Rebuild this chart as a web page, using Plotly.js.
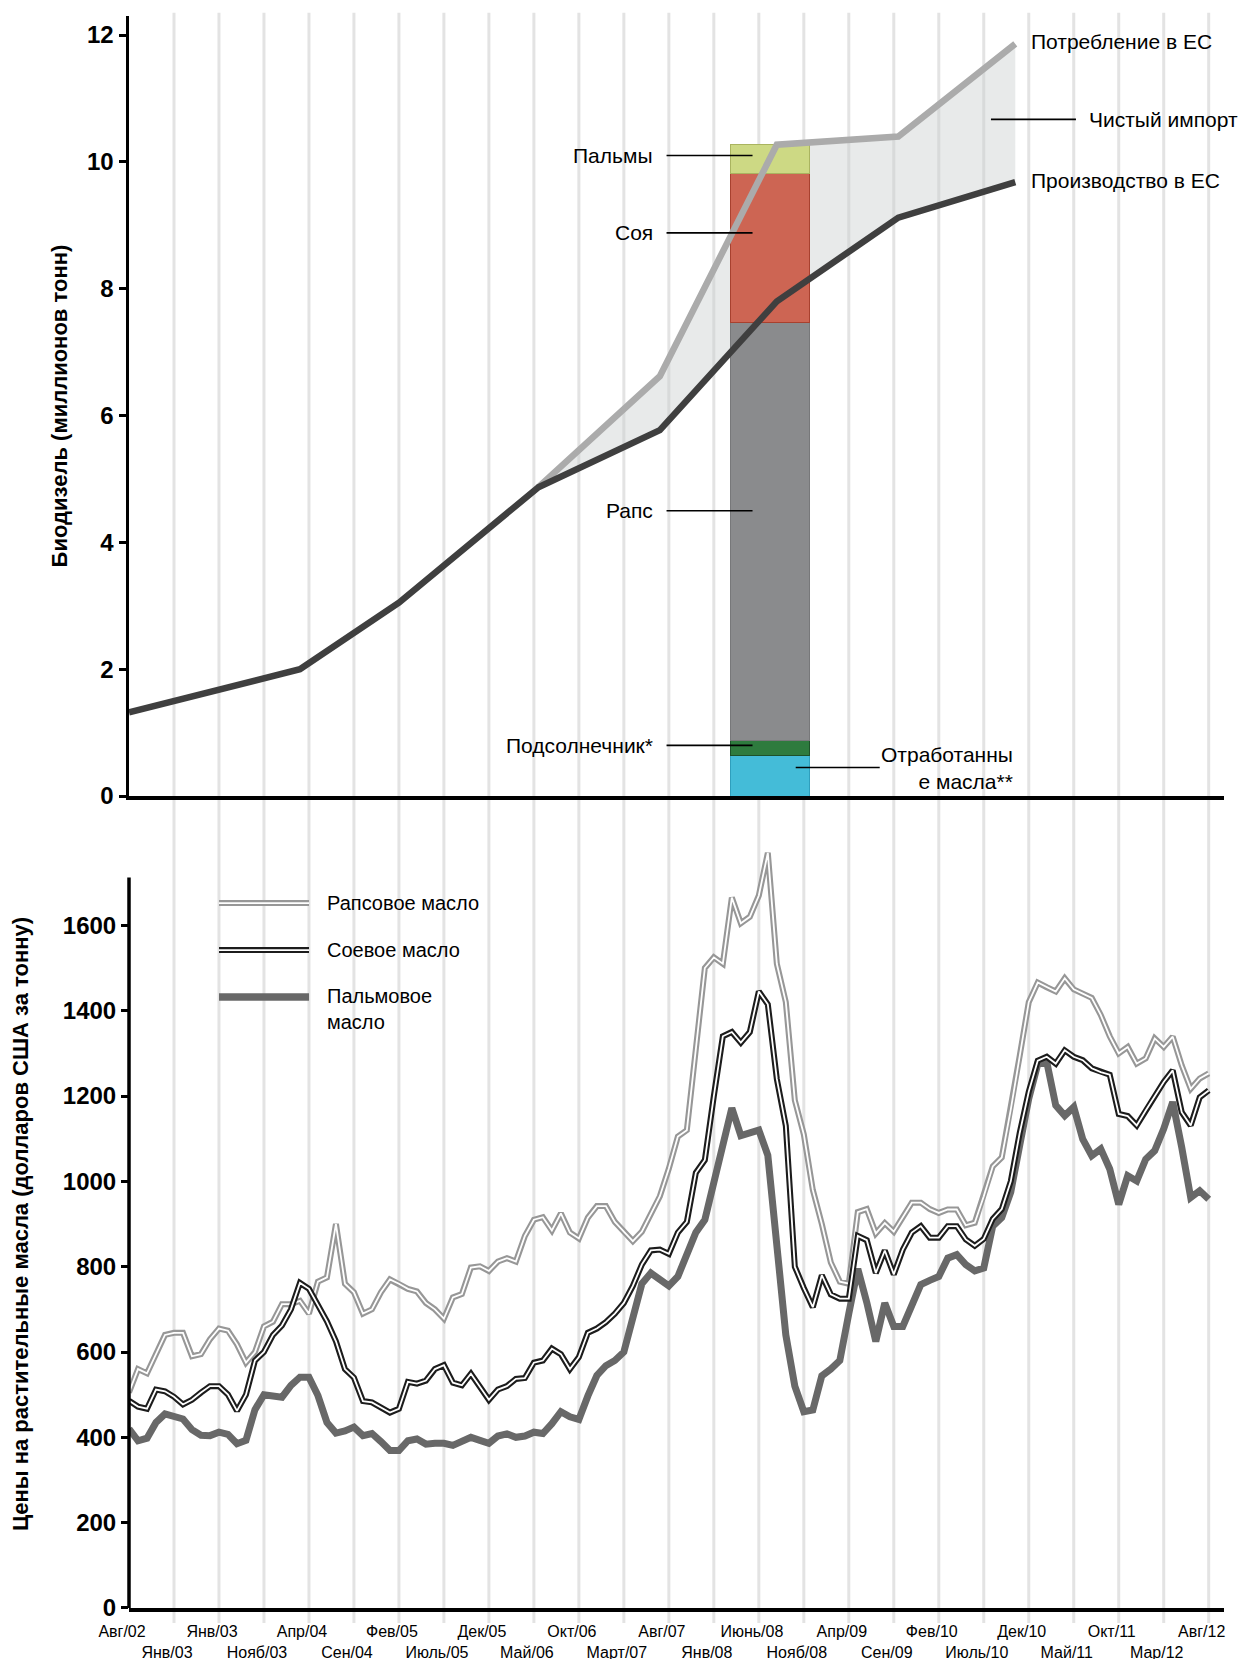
<!DOCTYPE html>
<html>
<head>
<meta charset="utf-8">
<script src="https://cdn.plot.ly/plotly-3.0.1.min.js"></script>
<style>
  html, body { margin: 0; padding: 0; background: #ffffff; }
  #chart { width: 1242px; height: 1659px; }
</style>
</head>
<body>
<div id="chart"></div>
<script>
// ================= DATA =================
// Top panel: EU biodiesel (million tonnes)
const years       = [2003, 2004, 2005, 2006, 2007, 2008, 2009, 2010];
// where each yearly point sits on the shared time axis (months since Aug 2002)
const yearPos     = [0, 19, 30, 45.5, 59, 72, 85.5, 98.5];
const production  = [1.32, 2.0, 3.05, 4.87, 5.77, 7.8, 9.12, 9.68];
const consumption = [null, null, null, 4.87, 6.62, 10.27, 10.4, 11.86];

// 2008 consumption by feedstock (stacked bar)
const feedstocks      = ['Отработанные масла**', 'Подсолнечник*', 'Рапс', 'Соя', 'Пальмы'];
const feedstockValues = [0.64, 0.23, 6.6, 2.35, 0.46];
const feedstockPos    = 71.2;

// Bottom panel: vegetable oil prices, USD per tonne, monthly Aug/02 .. Aug/12
const rapeseedOil = [
  505, 560, 550, 595, 640, 645, 645, 590, 595, 630,
  655, 650, 618, 575, 600, 660, 671, 712, 712, 720,
  690, 765, 775, 900, 760, 740, 690, 700, 740, 770,
  760, 748, 742, 715, 700, 678, 728, 736, 798, 801,
  790, 812, 820, 812, 872, 910, 916, 885, 925, 880,
  866, 915, 942, 942, 905, 882, 860, 882, 922, 965,
  1030, 1105, 1120, 1310, 1500, 1525, 1510, 1665, 1605, 1620,
  1670, 1770, 1510, 1420, 1190, 1110, 980, 900, 810, 765,
  760, 928, 935, 878, 902, 882, 915, 950, 950, 935,
  926, 934, 934, 897, 903, 965, 1035, 1056, 1168, 1295,
  1420, 1466, 1455, 1445, 1476, 1450, 1440, 1430, 1390, 1340,
  1300, 1315, 1276, 1288, 1335, 1315, 1339, 1272, 1217, 1241,
  1253
];
const soyOil = [
  486, 472, 467, 512, 508, 495, 477, 488, 505, 520,
  520, 500, 462, 500, 580, 600, 640, 662, 700, 762,
  748, 710, 672, 625, 560, 540, 485, 482, 470, 458,
  467, 530, 526, 533, 560, 569, 528, 522, 549, 520,
  488, 512, 520, 537, 539, 575, 580, 608, 595, 560,
  588, 645, 655, 670, 690, 715, 755, 805, 838, 840,
  830, 880, 905, 1020, 1050, 1200, 1340, 1350, 1325, 1350,
  1445, 1415, 1240, 1130, 800, 750, 705, 780, 735, 725,
  725, 872, 862, 785, 838, 782, 840, 880, 895, 868,
  868, 895, 895, 864, 849, 865, 912, 935, 1000, 1114,
  1210, 1283, 1292, 1276, 1307, 1292, 1284, 1265, 1256, 1250,
  1158, 1153, 1131, 1166, 1201, 1233, 1260, 1162, 1131, 1197,
  1213
];
const palmOil = [
  420, 392, 398, 435, 455, 450, 443, 418, 405, 404,
  412, 407, 385, 393, 465, 500, 498, 494, 522, 541,
  541, 498, 435, 410, 415, 424, 404, 409, 390, 369,
  369, 392, 396, 384, 386, 386, 381, 392, 400, 393,
  386, 403, 408, 400, 403, 412, 409, 432, 460, 448,
  442, 497, 545, 568, 580, 600, 679, 760, 785, 770,
  755, 777, 832, 880, 910, 1000, 1100, 1172, 1107, 1115,
  1120, 1061, 860, 640, 520, 460, 464, 544, 560, 580,
  690, 795, 716, 625, 715, 660, 660, 710, 758, 768,
  777, 820, 828, 805, 790, 797, 895, 915, 975, 1085,
  1194, 1275, 1280, 1178, 1154, 1174, 1099, 1060, 1076, 1029,
  946, 1013, 1001, 1052, 1072, 1123, 1186, 1080, 962, 978,
  958
];

// x-axis tick labels (every 5 months), in the two rows of the original
const tickMonths = [0, 5, 10, 15, 20, 25, 30, 35, 40, 45, 50, 55, 60, 65, 70, 75, 80, 85, 90, 95, 100, 105, 110, 115, 120];
const tickLabels = ['Авг/02', 'Янв/03', 'Янв/03', 'Нояб/03', 'Апр/04', 'Сен/04', 'Фев/05', 'Июль/05', 'Дек/05',
  'Май/06', 'Окт/06', 'Март/07', 'Авг/07', 'Янв/08', 'Июнь/08', 'Нояб/08', 'Апр/09', 'Сен/09', 'Фев/10',
  'Июль/10', 'Дек/10', 'Май/11', 'Окт/11', 'Мар/12', 'Авг/12'];

// ================= CHART =================
const months = rapeseedOil.map((_, i) => i);
const xRange = [0, 121.7];
const FONT = 'Arial, "Liberation Sans", sans-serif';

const traces = [];

// stacked feedstock bar
const barColors = ['#44bcd8', '#2e7b3e', '#8a8b8d', '#cd6553', '#cdd984'];
const barEdges  = ['#2f9fbd', '#1d5129', '#77787a', '#a8412f', '#aab460'];
feedstocks.forEach((name, i) => {
  traces.push({
    type: 'bar', name: name, x: [feedstockPos], y: [feedstockValues[i]], width: [8.8],
    marker: { color: barColors[i], line: { color: barEdges[i], width: 1 } },
    xaxis: 'x', yaxis: 'y', hoverinfo: 'skip'
  });
});
traces.push({
  type: 'scatter', mode: 'lines', name: 'Потребление в ЕС', x: yearPos, y: consumption,
  line: { color: '#ababab', width: 6.5 }, xaxis: 'x', yaxis: 'y'
});
traces.push({
  type: 'scatter', mode: 'lines', name: 'Производство в ЕС', x: yearPos, y: production,
  line: { color: '#3f3f3f', width: 6.5 }, xaxis: 'x', yaxis: 'y'
});

// price lines
traces.push({ type: 'scatter', mode: 'lines', name: 'Пальмовое масло', x: months, y: palmOil,
  line: { color: '#686868', width: 7 }, xaxis: 'x2', yaxis: 'y2' });
traces.push({ type: 'scatter', mode: 'lines', name: 'Рапсовое масло', x: months, y: rapeseedOil,
  line: { color: '#979797', width: 6 }, xaxis: 'x2', yaxis: 'y2' });
traces.push({ type: 'scatter', mode: 'lines', name: '', x: months, y: rapeseedOil,
  line: { color: '#ffffff', width: 1.8 }, xaxis: 'x2', yaxis: 'y2', hoverinfo: 'skip' });
traces.push({ type: 'scatter', mode: 'lines', name: 'Соевое масло', x: months, y: soyOil,
  line: { color: '#1c1c1c', width: 6 }, xaxis: 'x2', yaxis: 'y2' });
traces.push({ type: 'scatter', mode: 'lines', name: '', x: months, y: soyOil,
  line: { color: '#ffffff', width: 1.8 }, xaxis: 'x2', yaxis: 'y2', hoverinfo: 'skip' });

// ---- shapes ----
const shapes = [];
// vertical light stripes spanning both panels
tickMonths.slice(1).forEach(m => {
  shapes.push({ type: 'line', xref: 'x', yref: 'paper', x0: m, x1: m, y0: -0.0094, y1: 1.002,
    line: { color: '#e3e3e3', width: 3 }, layer: 'below' });
});
// net import area between consumption and production
const idx = consumption.map((v, i) => (v == null ? -1 : i)).filter(i => i >= 0);
const fillPath = 'M' + idx.map(i => yearPos[i] + ',' + consumption[i]).join(' L') +
  ' L' + idx.slice().reverse().map(i => yearPos[i] + ',' + production[i]).join(' L') + ' Z';
shapes.push({ type: 'path', xref: 'x', yref: 'y', path: fillPath,
  fillcolor: 'rgba(200,204,204,0.42)', line: { width: 0 }, layer: 'below' });
// bottom panel y-axis line (stops at the panel top; the price peak rises above it)
shapes.push({ type: 'line', xref: 'paper', yref: 'y2', x0: 0, x1: 0, y0: 0, y1: 1712,
  line: { color: '#000', width: 3.5 } });

// legend samples (bottom panel)
function legLine(y, color, width) {
  shapes.push({ type: 'line', xref: 'paper', yref: 'paper', x0: 0.0822, x1: 0.1644, y0: y, y1: y,
    line: { color: color, width: width } });
}
legLine(0.4428, '#979797', 6); legLine(0.4428, '#ffffff', 1.8);
legLine(0.4133, '#1c1c1c', 6); legLine(0.4133, '#ffffff', 1.8);
shapes.push({ type: 'line', xref: 'paper', yref: 'paper', x0: 0.0822, x1: 0.1644, y0: 0.3838, y1: 0.3838,
  line: { color: '#686868', width: 7.5 } });

// ---- annotations ----
const annFont = { family: FONT, size: 21, color: '#000' };
const annotations = [];
function callout(text, yv) {
  annotations.push({ xref: 'x', yref: 'y', x: feedstockPos - 1.9, y: yv, text: text,
    showarrow: true, arrowhead: 0, arrowwidth: 1.6, arrowcolor: '#000', ax: -86, ay: 0,
    xanchor: 'right', borderpad: 13, font: annFont });
}
callout('Пальмы', 10.1);
callout('Соя', 8.88);
callout('Рапс', 4.5);
callout('Подсолнечник*', 0.8);
annotations.push({ xref: 'x', yref: 'y', x: feedstockPos + 2.9, y: 0.45,
  text: 'Отработанны<br>е масла**', align: 'right',
  showarrow: true, arrowhead: 0, arrowwidth: 1.6, arrowcolor: '#000', ax: 84, ay: 0,
  xanchor: 'left', borderpad: 0, font: annFont });
annotations.push({ xref: 'x', yref: 'y', x: 95.8, y: 10.67, text: 'Чистый импорт',
  showarrow: true, arrowhead: 0, arrowwidth: 1.6, arrowcolor: '#000', ax: 85, ay: 0,
  xanchor: 'left', borderpad: 12, font: annFont });
annotations.push({ xref: 'x', yref: 'y', x: yearPos[7], y: consumption[7], text: 'Потребление в ЕС',
  showarrow: false, xanchor: 'left', yanchor: 'middle', xshift: 14, yshift: 2, font: annFont });
annotations.push({ xref: 'x', yref: 'y', x: yearPos[7], y: production[7], text: 'Производство в ЕС',
  showarrow: false, xanchor: 'left', yanchor: 'middle', xshift: 14, yshift: 2, font: annFont });

// legend texts
const legFont = { family: FONT, size: 20, color: '#000' };
annotations.push({ xref: 'paper', yref: 'paper', x: 0.179, y: 0.4428, text: 'Рапсовое масло',
  showarrow: false, xanchor: 'left', yanchor: 'middle', align: 'left', font: legFont });
annotations.push({ xref: 'paper', yref: 'paper', x: 0.179, y: 0.4133, text: 'Соевое масло',
  showarrow: false, xanchor: 'left', yanchor: 'middle', align: 'left', font: legFont });
annotations.push({ xref: 'paper', yref: 'paper', x: 0.179, y: 0.3760, text: 'Пальмовое<br>масло',
  showarrow: false, xanchor: 'left', yanchor: 'middle', align: 'left', font: legFont });

// two-row tick labels
const tickText = tickLabels.map((t, i) => (i % 2 === 0 ? t : '\u00a0<br>' + t));

const axisLine = { showline: true, linecolor: '#000', linewidth: 3.5, showgrid: false, zeroline: false };
const yTickFont = { family: FONT, size: 24, color: '#000', weight: 'bold' };
const titleFont = { family: FONT, size: 22, color: '#000', weight: 'bold' };

const layout = {
  width: 1242, height: 1659,
  margin: { l: 129, r: 18, t: 16, b: 51 },
  paper_bgcolor: '#ffffff', plot_bgcolor: 'rgba(0,0,0,0)',
  font: { family: FONT, color: '#000' },
  showlegend: false,
  barmode: 'stack',
  xaxis: Object.assign({ domain: [0, 1], anchor: 'y', range: xRange, showticklabels: false, ticks: '' }, axisLine),
  yaxis: Object.assign({ domain: [0.51, 1], anchor: 'x', range: [0, 12.3],
    tickvals: [0, 2, 4, 6, 8, 10, 12], ticks: 'outside', ticklen: 7, tickwidth: 3, tickcolor: '#000',
    tickfont: yTickFont,
    title: { text: 'Биодизель (миллионов тонн)', font: titleFont, standoff: 14 } }, axisLine),
  xaxis2: Object.assign({ domain: [0, 1], anchor: 'y2', range: xRange,
    tickvals: tickMonths, ticktext: tickText, ticks: '', tickangle: 0,
    tickfont: { family: FONT, size: 16, color: '#000' }, ticklabelshift: -7, ticklabelstandoff: 6 }, axisLine),
  yaxis2: { domain: [0, 0.4824], anchor: 'x2', range: [0, 1800],
    showline: false, showgrid: false, zeroline: false,
    tickvals: [0, 200, 400, 600, 800, 1000, 1200, 1400, 1600], ticks: 'outside', ticklen: 7, tickwidth: 3,
    tickcolor: '#000', tickfont: yTickFont,
    title: { text: 'Цены на растительные масла (долларов США за тонну)', font: titleFont, standoff: 28 } },
  shapes: shapes,
  annotations: annotations
};

Plotly.newPlot('chart', traces, layout, { displayModeBar: false, staticPlot: true });
</script>
</body>
</html>
